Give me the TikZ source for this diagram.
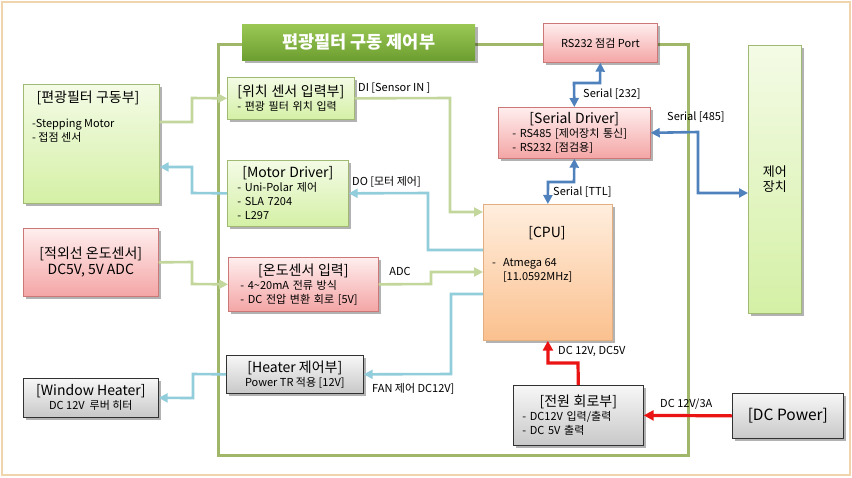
\documentclass[tikz,border=0pt]{standalone}
\usepackage{fontspec}
\setmainfont{Noto Sans CJK KR}
\usetikzlibrary{shadows,arrows.meta,calc}
\setlength\parindent{0pt}
\definecolor{olivec}{RGB}{195,214,155}
\definecolor{lblue}{RGB}{146,205,220}
\definecolor{dblue}{RGB}{79,129,189}
\definecolor{redc}{RGB}{235,20,20}
\definecolor{framegreen}{RGB}{160,183,105}
\definecolor{tanc}{RGB}{240,212,172}
\definecolor{gtop}{RGB}{244,251,230}
\definecolor{gbot}{RGB}{212,240,165}
\definecolor{gdraw}{RGB}{160,185,115}
\definecolor{ptop}{RGB}{255,238,238}
\definecolor{pbot}{RGB}{244,165,165}
\definecolor{pdraw}{RGB}{205,120,120}
\definecolor{otop}{RGB}{255,238,222}
\definecolor{obot}{RGB}{251,192,142}
\definecolor{odraw}{RGB}{228,175,128}
\definecolor{ytop}{RGB}{247,247,247}
\definecolor{ybot}{RGB}{200,200,200}
\definecolor{ydraw}{RGB}{50,50,50}
\definecolor{ttop}{RGB}{155,200,85}
\definecolor{tbot}{RGB}{108,158,48}
\newcommand\ttlf{\fontsize{14}{16}\selectfont}
\newcommand\itmf{\fontsize{11}{14}\selectfont}
\newcommand\lblf{\fontsize{11}{13}\selectfont}
\newcommand\ctitle[1]{\makebox[\hsize]{\ttlf #1}\\}
\tikzset{
  x=1pt, y=-1pt,
  box/.style={line width=0.7pt, anchor=north west, inner sep=0pt, font=\itmf,
    drop shadow={shadow xshift=2.5pt, shadow yshift=-2.5pt, opacity=0.3, fill=black}},
  greenbox/.style={box, draw=gdraw, top color=gtop, bottom color=gbot},
  pinkbox/.style={box, draw=pdraw, top color=ptop, bottom color=pbot},
  orangebox/.style={box, draw=odraw, top color=otop, bottom color=obot},
  graybox/.style={box, draw=ydraw, top color=ytop, bottom color=ybot},
  lbl/.style={font=\lblf, inner sep=0pt},
  conn/.style={line width=2.6pt},
  olar/.style={conn, draw=olivec, -{Triangle[length=9pt,width=9pt]}},
  lbar/.style={conn, draw=lblue, -{Triangle[length=9pt,width=9pt]}},
  bbar/.style={conn, draw=dblue, {Triangle[length=9pt,width=9pt]}-{Triangle[length=9pt,width=9pt]}},
  rar/.style={line width=3.2pt, draw=redc, -{Triangle[length=10pt,width=10pt]}},
}
\begin{document}
\begin{tikzpicture}
\useasboundingbox (0,0) rectangle (852,477);
\fill[white] (0,0) rectangle (852,477);
\draw[tanc, line width=2.5pt] (2,2) rectangle (850,475);

% main frame
\draw[framegreen, line width=3pt] (218,44) rectangle (688,455);
\node[anchor=north west, minimum width=233pt, minimum height=36pt, inner sep=0pt,
  top color=ttop, bottom color=tbot,
  drop shadow={shadow xshift=2.5pt, shadow yshift=-2.5pt, opacity=0.3, fill=black},
  text=white, font=\fontsize{17.5}{19}\selectfont\bfseries] (title) at (242,24) {편광필터 구동 제어부};

% left external boxes
\node[greenbox, minimum width=136pt, minimum height=119pt] (drive) at (23,84) {};
\node[font=\ttlf, inner sep=0pt] (drivet) at (88,98) {[편광필터 구동부]};
\node[font=\itmf, align=left, anchor=north west, inner sep=0pt] (drivei) at (32,119) {-Stepping Motor\\- 접점 센서};

\node[pinkbox, minimum width=135pt, minimum height=68pt, align=center, font=\ttlf] (irs) at (23,228) {[적외선 온도센서]\\DC5V, 5V ADC};

\node[graybox, minimum width=135pt, minimum height=39pt, align=center] (wheater) at (23,378) {{\ttlf [Window Heater]}\\DC 12V~ 루버 히터};

% inner boxes
\node[greenbox, minimum width=127pt, minimum height=42pt, text width=107pt, align=left] (posin) at (227,77)
  {\ctitle{[위치 센서 입력부]}- 편광 필터 위치 입력};
\node[greenbox, minimum width=121pt, minimum height=66pt, text width=101pt, align=left] (motor) at (227,160)
  {\ctitle{[Motor Driver]}- Uni-Polar 제어\\- SLA 7204\\- L297};
\node[pinkbox, minimum width=150pt, minimum height=54pt, text width=126pt, align=left] (tin) at (228,257)
  {\ctitle{[온도센서 입력]}- 4\textasciitilde20mA 전류 방식\\- DC 전압 변환 회로 [5V]};
\node[graybox, minimum width=137pt, minimum height=38pt, align=center] (heater) at (226,355)
  {{\ttlf [Heater 제어부]}\\Power TR 적용 [12V]};

\node[pinkbox, minimum width=114pt, minimum height=39pt, font=\itmf] (rs) at (543,23) {RS232 점검 Port};
\node[pinkbox, minimum width=152pt, minimum height=51pt, text width=124pt, align=left] (sdrv) at (498,107)
  {\ctitle{[Serial Driver]}- RS485 [제어장치 통신]\\- RS232 [점검용]};

\node[orangebox, minimum width=129pt, minimum height=136pt] (cpu) at (483,204) {};
\node[font=\ttlf, inner sep=0pt] (cput) at (547,233) {[CPU]};
\node[font=\itmf, anchor=north west, inner sep=0pt] (cpui) at (492,256)
  {\begin{tabular}{@{}l@{\hspace{7pt}}l@{}}-& Atmega 64\\ & [11.0592MHz]\end{tabular}};

\node[graybox, minimum width=130pt, minimum height=60pt, text width=112pt, align=left] (pwr) at (513,385)
  {\ctitle{[전원 회로부]}- DC12V 입력/출력\\- DC 5V 출력};

% right external
\node[greenbox, minimum width=53pt, minimum height=268pt, align=center, font=\fontsize{13}{15.5}\selectfont] (ctrl) at (748,45) {제어\\장치};
\node[graybox, minimum width=111pt, minimum height=45pt, font=\fontsize{15.5}{18}\selectfont] (dcp) at (732,393) {[DC Power]};

% connectors
\draw[olar] (drive.east |- 0,122) -- (192,122) -- (192,98) -- (posin.west);
\draw[lbar] (motor.west) -- (192,193) -- (192,167) -- (drive.east |- 0,167);
\draw[olar] (posin.east) -- (450,98) -- (450,212) -- (cpu.west |- 0,212);
\draw[lbar] (cpu.west |- 0,250) -- (428,250) -- (428,193) -- (motor.east);
\draw[olar] (irs.east) -- (192,262) -- (192,284) -- (tin.west);
\draw[olar] (tin.east) -- (431,284) -- (431,272) -- (cpu.west |- 0,272);
\draw[lbar] (cpu.west |- 0,294) -- (451,294) -- (451,374) -- (heater.east);
\draw[lbar] (heater.west) -- (193,374) -- (193,398) -- (wheater.east);
\draw[bbar] (sdrv.north) -- (574,83) -- (600,83) -- (rs.south);
\draw[bbar] (cpu.north) -- (548,182) -- (574,182) -- (sdrv.south);
\draw[bbar] (sdrv.east) -- (698,132) -- (698,193) -- (ctrl.west |- 0,193);
\draw[rar] (pwr.north) -- (578,363) -- (548,363) -- (cpu.south);
\draw[rar] (dcp.west) -- (pwr.east);

% labels
\node[lbl, anchor=west] (l1) at (358,88) {DI [Sensor IN ]};
\node[lbl, anchor=west] (l2) at (352,182) {DO [모터 제어]};
\node[lbl] (l3) at (400,271) {ADC};
\node[lbl, anchor=west] (l4) at (372,389) {FAN 제어 DC12V]};
\node[lbl, anchor=west] (l5) at (583,94) {Serial [232]};
\node[lbl, anchor=west] (l6) at (553,192) {Serial [TTL]};
\node[lbl, anchor=west] (l7) at (667,117) {Serial [485]};
\node[lbl, anchor=west] (l8) at (558,351) {DC 12V, DC5V};
\node[lbl, anchor=west] (l9) at (660,404) {DC 12V/3A};
\end{tikzpicture}
\end{document}
